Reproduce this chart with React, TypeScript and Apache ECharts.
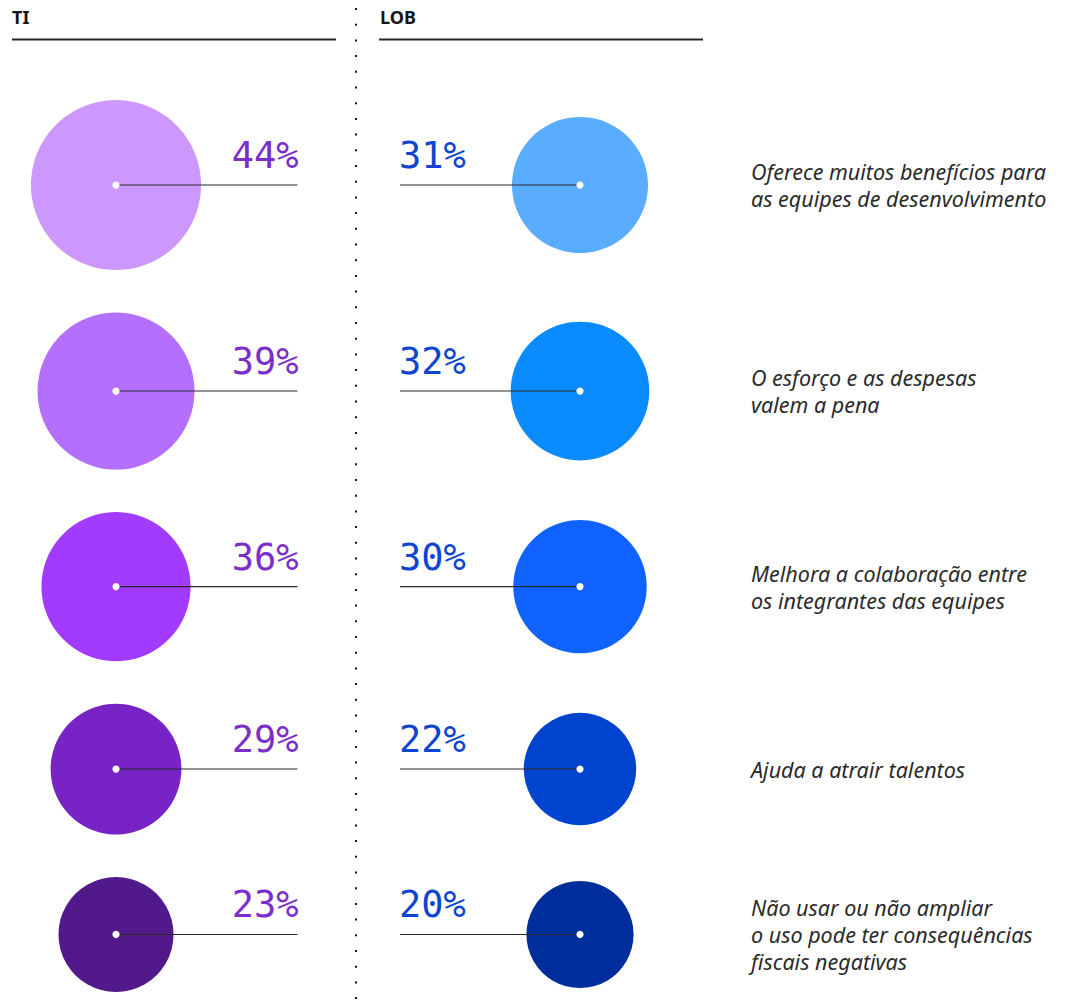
import React, { useEffect, useRef } from "react";
import * as echarts from "echarts";

const categories = [
  "Oferece muitos benefícios para\nas equipes de desenvolvimento",
  "O esforço e as despesas\nvalem a pena",
  "Melhora a colaboração entre\nos integrantes das equipes",
  "Ajuda a atrair talentos",
  "Não usar ou não ampliar\no uso pode ter consequências\nfiscais negativas",
];
const tiValues = [44, 39, 36, 29, 23];
const lobValues = [31, 32, 30, 22, 20];
const groupLabels = ["TI", "LOB"];

const tiColors = ["#CD98FE", "#B56FFE", "#A33AFF", "#7723C6", "#52198A"];
const lobColors = ["#5AACFF", "#0A8CFF", "#1163FF", "#0043CE", "#002D9C"];
const tiText = "#7C2ECC";
const lobText = "#0D45D0";

const W = 1084;
const H = 1004;
const TI_X = 116;
const LOB_X = 580;
const TEXT_X = 751;
const TOP = 100;
const GAP = 42.5;
const LINE_STEP = 27;

const radius = (v: number) => 27.4 + 1.31 * v;

function rowPositions(): number[] {
  const ys: number[] = [];
  let prevR = 0;
  let y = TOP;
  for (let i = 0; i < tiValues.length; i++) {
    const r = Math.max(radius(tiValues[i]), radius(lobValues[i]));
    y = i === 0 ? TOP + r : y + prevR + r + GAP;
    ys.push(y);
    prevR = r;
  }
  return ys;
}

export default function App() {
  const ref = useRef<HTMLDivElement>(null);
  useEffect(() => {
    if (!ref.current) return;
    const chart = echarts.init(ref.current, null, { renderer: "svg" });
    const ys = rowPositions();
    const tiData = tiValues.map((v, i) => ({
      value: [TI_X, ys[i], v],
      itemStyle: { color: tiColors[i], opacity: 1 },
    }));
    const lobData = lobValues.map((v, i) => ({
      value: [LOB_X, ys[i], v],
      itemStyle: { color: lobColors[i], opacity: 1 },
    }));

    const connector = (side: "ti" | "lob") => (params: any, api: any) => {
      const x = api.value(0);
      const y = api.value(1);
      const v = api.value(2);
      const c = api.coord([x, y]);
      const lineX0 = side === "ti" ? c[0] : api.coord([400, y])[0];
      const lineX1 = side === "ti" ? api.coord([297.5, y])[0] : c[0];
      return {
        type: "group",
        children: [
          {
            type: "line",
            shape: { x1: lineX0, y1: c[1], x2: lineX1, y2: c[1] },
            style: { stroke: "#2a2a2a", lineWidth: 1.1 },
          },
          {
            type: "circle",
            shape: { cx: c[0], cy: c[1], r: 3.6 },
            style: { fill: "#ffffff" },
          },
          {
            type: "text",
            x: side === "ti" ? lineX1 + 1 : lineX0 - 1,
            y: c[1] - 11,
            style: {
              text: v + "%",
              fill: side === "ti" ? tiText : lobText,
              font: "37px 'DejaVu Sans Mono'",
              align: side === "ti" ? "right" : "left",
              verticalAlign: "bottom",
            },
          },
        ],
      };
    };

    chart.setOption({
      animation: false,
      grid: { left: 0, top: 0, width: W, height: H },
      xAxis: { type: "value", min: 0, max: W, show: false },
      yAxis: { type: "value", min: 0, max: H, inverse: true, show: false },
      graphic: [
        {
          type: "text",
          left: 12,
          top: 8,
          style: { text: groupLabels[0], font: "bold 18px 'Noto Sans'", fill: "#161616" },
        },
        {
          type: "text",
          left: 380,
          top: 8,
          style: { text: groupLabels[1], font: "bold 18px 'Noto Sans'", fill: "#161616" },
        },
        {
          type: "line",
          shape: { x1: 12, y1: 39.5, x2: 336, y2: 39.5 },
          style: { stroke: "#262626", lineWidth: 2 },
        },
        {
          type: "line",
          shape: { x1: 379, y1: 39.5, x2: 703, y2: 39.5 },
          style: { stroke: "#262626", lineWidth: 2 },
        },
        {
          type: "line",
          shape: { x1: 356, y1: 8, x2: 356, y2: H },
          style: { stroke: "#161616", lineWidth: 2, lineDash: [2, 13.7] },
        },
      ],
      series: [
        {
          type: "scatter",
          data: tiData,
          symbol: "circle",
          symbolSize: (val: number[]) => 2 * radius(val[2]),
          itemStyle: { opacity: 1 },
          silent: true,
          z: 2,
        },
        {
          type: "scatter",
          data: lobData,
          symbol: "circle",
          symbolSize: (val: number[]) => 2 * radius(val[2]),
          itemStyle: { opacity: 1 },
          silent: true,
          z: 2,
        },
        {
          type: "custom",
          data: tiValues.map((v, i) => [TI_X, ys[i], v]),
          renderItem: connector("ti"),
          silent: true,
          z: 3,
        },
        {
          type: "custom",
          data: lobValues.map((v, i) => [LOB_X, ys[i], v]),
          renderItem: connector("lob"),
          silent: true,
          z: 3,
        },
        {
          type: "custom",
          data: categories.map((_, i) => [TEXT_X, ys[i]]),
          renderItem: (params: any, api: any) => {
            const c = api.coord([api.value(0), api.value(1)]);
            const lines = categories[params.dataIndex].split("\n");
            const y0 = c[1] - ((lines.length - 1) * LINE_STEP) / 2;
            return {
              type: "group",
              children: lines.map((ln, k) => ({
                type: "text",
                x: c[0],
                y: y0 + k * LINE_STEP,
                style: {
                  text: ln,
                  font: "italic 21.5px 'Noto Sans'",
                  fill: "#2b2b2b",
                  align: "left",
                  verticalAlign: "middle",
                  lineHeight: 24,
                },
              })),
            };
          },
          silent: true,
          z: 3,
        },
      ],
    });
    return () => chart.dispose();
  }, []);
  return (
    <div
      ref={ref}
      style={{ position: "absolute", left: 0, top: 0, width: W, height: H, background: "#fff" }}
    />
  );
}
